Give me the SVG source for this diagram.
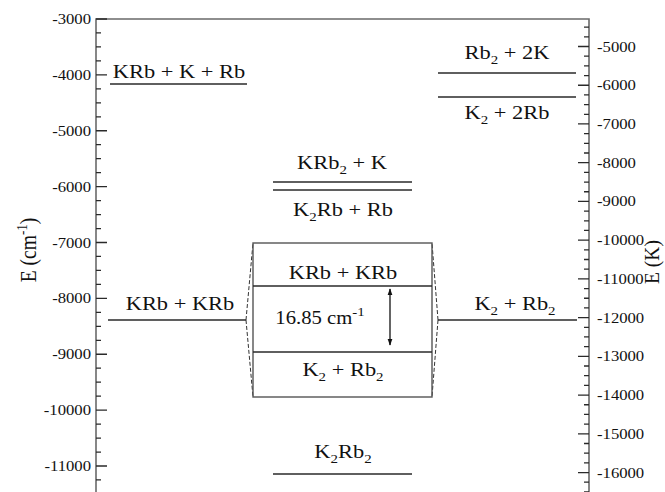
<svg xmlns="http://www.w3.org/2000/svg" width="665" height="492" viewBox="0 0 665 492" font-family="Liberation Serif, Times New Roman, serif">
<style>
text{font-family:'Liberation Serif','Times New Roman',serif;fill:#111}
.lab{font-size:19.5px;text-anchor:middle}
.num{font-size:14.5px}
.sub{font-size:13px}
.lvl{stroke:#2a2a2a;stroke-width:1.6;fill:none}
.axis{stroke:#6a6a6a;stroke-width:1.6;fill:none}
.tick{stroke:#2a2a2a;stroke-width:1.3;fill:none}
.box{stroke:#555;stroke-width:1.4;fill:none}
.dash{stroke:#333;stroke-width:1;stroke-dasharray:4 2;fill:none}
</style>
<defs>
<marker id="ah" viewBox="0 0 10 10" refX="9" refY="5" markerWidth="7" markerHeight="7" orient="auto-start-reverse" markerUnits="userSpaceOnUse">
<path d="M0,1.5 L10,5 L0,8.5 Z" fill="#111"/>
</marker>
</defs>
<rect width="665" height="492" fill="#fff"/>

<g id="axes">
<path class="axis" d="M96,492 V19 H589 V492"/>
<path class="tick" d="M96,19H107M96,32.97H101M96,46.94H101M96,60.91H101M96,74.88H107M96,88.84H101M96,102.81H101M96,116.78H101M96,130.75H107M96,144.72H101M96,158.69H101M96,172.66H101M96,186.63H107M96,200.59H101M96,214.56H101M96,228.53H101M96,242.5H107M96,256.47H101M96,270.44H101M96,284.41H101M96,298.38H107M96,312.34H101M96,326.31H101M96,340.28H101M96,354.25H107M96,368.22H101M96,382.19H101M96,396.16H101M96,410.13H107M96,424.09H101M96,438.06H101M96,452.03H101M96,466H107M96,479.97H101"/>
<path class="tick" d="M584,27.14H589M584,36.82H589M578,46.5H589M584,56.18H589M584,65.86H589M584,75.55H589M578,85.23H589M584,94.91H589M584,104.6H589M584,114.28H589M578,123.96H589M584,133.64H589M584,143.32H589M584,153H589M578,162.69H589M584,172.37H589M584,182.05H589M584,191.73H589M578,201.42H589M584,211.1H589M584,220.78H589M584,230.46H589M578,240.15H589M584,249.83H589M584,259.51H589M584,269.19H589M578,278.88H589M584,288.56H589M584,298.24H589M584,307.92H589M578,317.61H589M584,327.29H589M584,336.97H589M584,346.65H589M578,356.34H589M584,366.02H589M584,375.7H589M584,385.38H589M578,395.07H589M584,404.75H589M584,414.43H589M584,424.11H589M578,433.8H589M584,443.48H589M584,453.16H589M584,462.84H589M578,472.53H589M584,482.21H589M584,491.89H589"/>
<g transform="translate(91 0) scale(1.15 1)" class="num" text-anchor="end">
<text x="0" y="24">-3000</text>
<text x="0" y="80">-4000</text>
<text x="0" y="136">-5000</text>
<text x="0" y="192">-6000</text>
<text x="0" y="248">-7000</text>
<text x="0" y="303">-8000</text>
<text x="0" y="359">-9000</text>
<text x="0" y="415">-10000</text>
<text x="0" y="471">-11000</text>
</g>
<g transform="translate(597 0) scale(1.15 1)" class="num">
<text x="0" y="52">-5000</text>
<text x="0" y="90">-6000</text>
<text x="0" y="129">-7000</text>
<text x="0" y="168">-8000</text>
<text x="0" y="206">-9000</text>
<text x="0" y="245">-10000</text>
<text x="0" y="284">-11000</text>
<text x="0" y="323">-12000</text>
<text x="0" y="361">-13000</text>
<text x="0" y="400">-14000</text>
<text x="0" y="439">-15000</text>
<text x="0" y="478">-16000</text>
</g>
<text transform="translate(36 250) rotate(-90) scale(1 1.15)" class="lab">E (cm<tspan class="sub" dy="-8">-1</tspan><tspan dy="8">)</tspan></text>
<text transform="translate(659 262) rotate(-90) scale(1 1.1)" class="lab">E (K)</text>
</g>

<g id="connectors">
<path class="dash" d="M246,320 L253,243 M246,320 L253,397"/>
<path class="dash" d="M438,320 L432,243 M438,320 L432,397"/>
<line x1="390" y1="289" x2="390" y2="345" stroke="#111" stroke-width="1.3" marker-start="url(#ah)" marker-end="url(#ah)"/>
</g>

<g id="n-krb-k-rb">
<line class="lvl" x1="110" y1="84" x2="247" y2="84"/>
<text class="lab" transform="translate(179 78) scale(1.15 1)">KRb + K + Rb</text>
</g>
<g id="n-rb2-2k">
<line class="lvl" x1="438" y1="73" x2="576" y2="73"/>
<text class="lab" transform="translate(507 59) scale(1.15 1)">Rb<tspan class="sub" dy="5">2</tspan><tspan dy="-5"> + 2K</tspan></text>
</g>
<g id="n-k2-2rb">
<line class="lvl" x1="438" y1="97" x2="576" y2="97"/>
<text class="lab" transform="translate(507 119) scale(1.15 1)">K<tspan class="sub" dy="5">2</tspan><tspan dy="-5"> + 2Rb</tspan></text>
</g>
<g id="n-krb2-k">
<line class="lvl" x1="273" y1="182" x2="412" y2="182"/>
<text class="lab" transform="translate(342 169) scale(1.15 1)">KRb<tspan class="sub" dy="5">2</tspan><tspan dy="-5"> + K</tspan></text>
</g>
<g id="n-k2rb-rb">
<line class="lvl" x1="273" y1="190" x2="412" y2="190"/>
<text class="lab" transform="translate(343 216) scale(1.15 1)">K<tspan class="sub" dy="5">2</tspan><tspan dy="-5">Rb + Rb</tspan></text>
</g>
<g id="n-krb-krb-left">
<line class="lvl" x1="108" y1="320" x2="246" y2="320"/>
<text class="lab" transform="translate(180 310) scale(1.15 1)">KRb + KRb</text>
</g>
<g id="n-k2-rb2-right">
<line class="lvl" x1="438" y1="320" x2="577" y2="320"/>
<text class="lab" transform="translate(515 310) scale(1.15 1)">K<tspan class="sub" dy="5">2</tspan><tspan dy="-5"> + Rb</tspan><tspan class="sub" dy="5">2</tspan></text>
</g>
<g id="n-zoom-box">
<rect class="box" x="253" y="243" width="179" height="154"/>
</g>
<g id="n-box-krb-krb">
<line class="lvl" x1="253" y1="286" x2="432" y2="286"/>
<text class="lab" transform="translate(343 279) scale(1.15 1)">KRb + KRb</text>
</g>
<g id="n-box-gap">
<text class="lab" style="font-size:18px" transform="translate(320 324) scale(1.15 1)">16.85 cm<tspan class="sub" dy="-8">-1</tspan></text>
</g>
<g id="n-box-k2-rb2">
<line class="lvl" x1="253" y1="352" x2="432" y2="352"/>
<text class="lab" transform="translate(343 376) scale(1.15 1)">K<tspan class="sub" dy="5">2</tspan><tspan dy="-5"> + Rb</tspan><tspan class="sub" dy="5">2</tspan></text>
</g>
<g id="n-k2rb2">
<line class="lvl" x1="273" y1="474" x2="412" y2="474"/>
<text class="lab" transform="translate(343 458) scale(1.15 1)">K<tspan class="sub" dy="5">2</tspan><tspan dy="-5">Rb</tspan><tspan class="sub" dy="5">2</tspan></text>
</g>
</svg>
